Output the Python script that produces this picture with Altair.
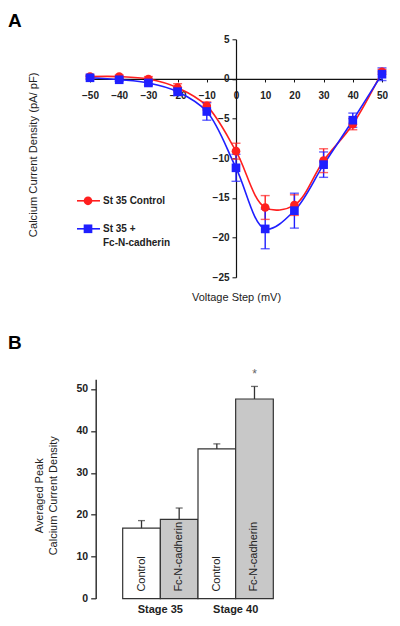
import altair as alt
import pandas as pd

# ---------------- data ----------------
voltage = [-50, -40, -30, -20, -10, 0, 10, 20, 30, 40, 50]
control_mean = [0.3, 0.3, 0.0, -1.1, -3.4, -9.1, -16.2, -15.9, -10.3, -5.7, 0.9]
control_err = [0.2, 0.2, 0.3, 0.5, 0.5, 1.0, 1.5, 1.3, 1.5, 0.7, 0.3]
fc_mean = [0.15, -0.1, -0.5, -1.6, -4.1, -11.2, -18.9, -16.6, -10.8, -5.2, 0.6]
fc_err = [0.2, 0.2, 0.3, 0.5, 1.1, 1.7, 2.5, 2.2, 1.6, 0.9, 0.8]
series_names = ["St 35 Control", "St 35 + Fc-N-cadherin"]
series_colors = ["#ff1f1f", "#1f1fff"]
series_shapes = ["circle", "square"]

stage = ["Stage 35", "Stage 35", "Stage 40", "Stage 40"]
treatment = ["Control", "Fc-N-cadherin", "Control", "Fc-N-cadherin"]
peak_mean = [16.8, 18.9, 35.7, 47.6]
peak_err = [1.8, 2.7, 1.2, 3.0]
significance = ["", "", "", "*"]
treatment_fill = ["#ffffff", "#c8c8c8"]

FONT = "Liberation Sans"
TXT = "#222222"

# ---------------- panel A ----------------
rows = []
for name, means, errs in [(series_names[0], control_mean, control_err),
                          (series_names[1], fc_mean, fc_err)]:
    for v, m, e in zip(voltage, means, errs):
        rows.append({"series": name, "v": v, "mean": m, "lo": m - e, "hi": m + e})
df_a = pd.DataFrame(rows)

WA, HA = 292, 238
YMIN, YMAX = -25, 5
x_zero_px = WA * (0 - (-50)) / 100.0
y_zero_px = HA * (YMAX - 0) / (YMAX - YMIN)

x_scale_a = alt.Scale(domain=[-50, 50], nice=False, zero=False)
y_scale_a = alt.Scale(domain=[YMIN, YMAX], nice=False, zero=False)
x_axis_a = alt.Axis(values=list(range(-50, 51, 10)), offset=-(HA - y_zero_px),
                    title="Voltage Step (mV)", titleX=x_zero_px, titleY=219,
                    titleBaseline="middle", titleFontWeight="normal", titleFontSize=11,
                    titleColor=TXT, labelFontWeight="bold", labelFontSize=10,
                    labelColor=TXT, labelPadding=9, labelFlush=False, tickSize=3,
                    tickColor="#111", domainColor="#111", domainWidth=1.2, grid=False)
y_axis_a = alt.Axis(values=list(range(-25, 6, 5)), offset=-x_zero_px,
                    title="Calcium Current Density (pA/ pF)", titleX=-203, titleY=115,
                    titleAngle=270, titleBaseline="middle", titleFontWeight="normal",
                    titleFontSize=11.2, titleColor=TXT, labelFontWeight="bold",
                    labelFontSize=10, labelColor=TXT, labelPadding=3, labelFlush=False,
                    tickSize=4, tickColor="#111", domainColor="#111", domainWidth=1.2,
                    grid=False)

color_a = alt.Color("series:N", scale=alt.Scale(domain=series_names, range=series_colors), legend=None)
shape_a = alt.Shape("series:N", scale=alt.Scale(domain=series_names, range=series_shapes), legend=None)

base_a = alt.Chart(df_a)
lines = base_a.mark_line(interpolate="catmull-rom", strokeWidth=1.6).encode(
    x=alt.X("v:Q", scale=x_scale_a, axis=x_axis_a),
    y=alt.Y("mean:Q", scale=y_scale_a, axis=y_axis_a),
    color=color_a, detail="series:N")
err_rules = base_a.mark_rule(strokeWidth=1.4).encode(
    x=alt.X("v:Q", scale=x_scale_a, axis=x_axis_a),
    y=alt.Y("lo:Q", scale=y_scale_a, axis=y_axis_a), y2="hi:Q", color=color_a)
cap_lo = base_a.mark_tick(orient="horizontal", size=9, thickness=1.4).encode(
    x=alt.X("v:Q", scale=x_scale_a, axis=x_axis_a),
    y=alt.Y("lo:Q", scale=y_scale_a, axis=y_axis_a), color=color_a)
cap_hi = base_a.mark_tick(orient="horizontal", size=9, thickness=1.4).encode(
    x=alt.X("v:Q", scale=x_scale_a, axis=x_axis_a),
    y=alt.Y("hi:Q", scale=y_scale_a, axis=y_axis_a), color=color_a)
points = base_a.mark_point(filled=True, opacity=1, size=75).encode(
    x=alt.X("v:Q", scale=x_scale_a, axis=x_axis_a),
    y=alt.Y("mean:Q", scale=y_scale_a, axis=y_axis_a),
    color=color_a, shape=shape_a)

one = alt.Data(values=[{}])
# custom legend (pixel offsets relative to the plot origin)
leg_layers = []
for ly, col, shp in [(161.5, series_colors[0], "circle"), (189.5, series_colors[1], "square")]:
    leg_layers.append(alt.Chart(one).mark_rule(color=col, strokeWidth=1.6).encode(
        x=alt.value(-13), x2=alt.value(10), y=alt.value(ly)))
    leg_layers.append(alt.Chart(one).mark_point(filled=True, opacity=1, color=col, shape=shp,
                                                size=75).encode(x=alt.value(-2), y=alt.value(ly)))
leg_text = [("St 35 Control", 161.5), ("St 35 +", 189.5), ("Fc-N-cadherin", 203.5)]
for t, ly in leg_text:
    leg_layers.append(alt.Chart(one).mark_text(text=t, align="left", baseline="middle",
                                               font=FONT, fontSize=10, fontWeight="bold",
                                               color=TXT).encode(x=alt.value(13), y=alt.value(ly)))
label_a = alt.Chart(one).mark_text(text="A", align="left", baseline="alphabetic", font=FONT,
                                   fontSize=19, fontWeight="bold", color="#000").encode(
    x=alt.value(-82), y=alt.value(-12.3))

panel_a = alt.layer(lines, err_rules, cap_lo, cap_hi, points, *leg_layers, label_a).properties(
    width=WA, height=HA)

# ---------------- panel B ----------------
df_b = pd.DataFrame({"stage": stage, "treatment": treatment, "mean": peak_mean,
                     "upper": [m + e for m, e in zip(peak_mean, peak_err)],
                     "sig": significance})

WB, HB = 216, 219.3
x_b = alt.X("stage:N", sort=None, scale=alt.Scale(paddingInner=0, paddingOuter=0.434),
            axis=alt.Axis(title=None, domain=False, ticks=False, labelAngle=0,
                          labelFontWeight="bold", labelFontSize=11, labelPadding=5,
                          labelColor=TXT))
xo_b = alt.XOffset("treatment:N", sort=None, scale=alt.Scale(paddingInner=0, paddingOuter=0))
y_scale_b = alt.Scale(domain=[0, 52.3], nice=False, zero=True)
y_axis_b = alt.Axis(values=[0, 10, 20, 30, 40, 50], offset=-5.7,
                    title=["Averaged Peak", "Calcium Current Density"],
                    titleX=-62, titleY=116, titleAngle=270, titleBaseline="top",
                    titleLineHeight=14, titleFontWeight="normal", titleFontSize=11,
                    titleColor=TXT, labelFontWeight="bold", labelFontSize=10.5,
                    labelColor=TXT, labelPadding=3, tickSize=5, tickColor="#333",
                    domainColor="#333", domainWidth=1.5, tickWidth=1.3, grid=False)

base_b = alt.Chart(df_b)
bars = base_b.mark_bar(stroke="#333", strokeWidth=1.2).encode(
    x=x_b, xOffset=xo_b,
    y=alt.Y("mean:Q", scale=y_scale_b, axis=y_axis_b),
    fill=alt.Fill("treatment:N", scale=alt.Scale(domain=["Control", "Fc-N-cadherin"],
                                                 range=treatment_fill), legend=None))
err_b = base_b.mark_rule(color="#333", strokeWidth=1.3).encode(
    x=x_b, xOffset=xo_b,
    y=alt.Y("mean:Q", scale=y_scale_b, axis=y_axis_b), y2="upper:Q")
cap_b = base_b.mark_tick(orient="horizontal", size=7, thickness=1.3, color="#333").encode(
    x=x_b, xOffset=xo_b, y=alt.Y("upper:Q", scale=y_scale_b, axis=y_axis_b))
bar_text = base_b.mark_text(angle=270, align="left", baseline="middle", dx=7, font=FONT,
                            fontSize=11, color=TXT).encode(
    x=x_b, xOffset=xo_b, y=alt.datum(0, scale=y_scale_b), text="treatment:N")
star = base_b.transform_filter("datum.sig != ''").mark_text(
    baseline="alphabetic", dy=-8, font=FONT, fontSize=12, color="#666").encode(
    x=x_b, xOffset=xo_b, y=alt.Y("upper:Q", scale=y_scale_b, axis=y_axis_b), text="sig:N")
label_b = alt.Chart(one).mark_text(text="B", align="left", baseline="alphabetic", font=FONT,
                                   fontSize=19, fontWeight="bold", color="#000").encode(
    x=alt.value(-82), y=alt.value(-30))

panel_b = alt.layer(bars, err_b, cap_b, bar_text, star, label_b).properties(width=WB, height=HB)

chart = alt.vconcat(panel_a, panel_b, spacing=31).properties(
    padding={"left": 0, "top": 3.3, "right": 0, "bottom": 0}
).configure(font=FONT).configure_view(strokeWidth=0, stroke="transparent")

chart.save("out.html", embed_options={"renderer": "svg", "actions": False})
